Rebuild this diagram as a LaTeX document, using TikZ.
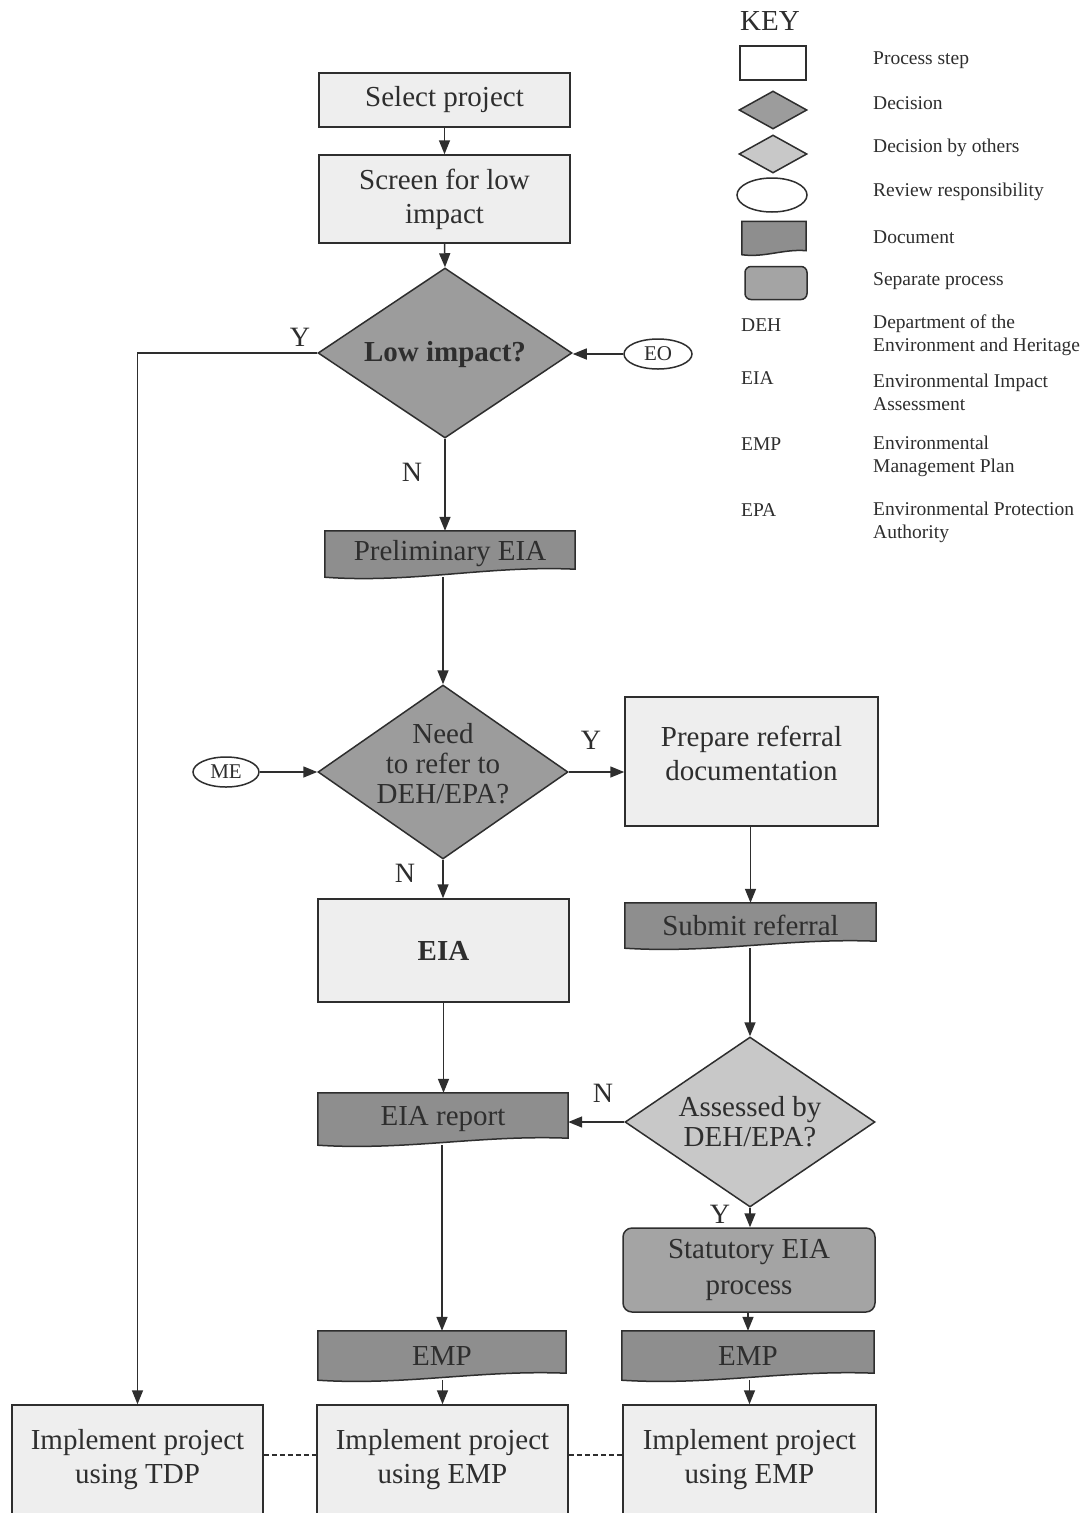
\documentclass[tikz,border=0pt]{standalone}
\usepackage{fontspec}
\setmainfont{Liberation Serif}
\usetikzlibrary{shapes.geometric,arrows.meta,calc,backgrounds}

\pgfdeclarelayer{paper}
\pgfsetlayers{paper,background,main}

\definecolor{ink}{HTML}{2E2E2E}
\definecolor{procfill}{HTML}{EEEEEE}
\definecolor{decfill}{HTML}{9C9C9C}
\definecolor{otherfill}{HTML}{C8C8C8}
\definecolor{docfill}{HTML}{8E8E8E}
\definecolor{sepfill}{HTML}{A4A4A4}

% document symbol: flat top, wavy bottom (right end raised by #2)
\newcommand\docpath[2]{%
  \filldraw[draw=ink, line width=1.5pt, fill=docfill]
    (#1.north west) -- (#1.north east) -- ($(#1.south east)+(0,-#2)$)
    .. controls ($(#1.south east)!0.35!(#1.south west)+(0,-1.5*#2)$)
           and ($(#1.south west)!0.35!(#1.south east)+(0,0.8*#2)$) .. (#1.south west)
    -- cycle;}

\begin{document}
\begin{tikzpicture}[x=1pt,y=-1pt,
  every node/.style={inner sep=0pt, text=ink},
  big/.style={font=\fontsize{29}{34}\selectfont},
  proc/.style={big, rectangle, draw=ink, line width=1.5pt, fill=procfill, align=center},
  decision/.style={diamond, draw=ink, line width=1.5pt, fill=decfill},
  otherdec/.style={diamond, draw=ink, line width=1.5pt, fill=otherfill},
  doc/.style={big, rectangle, align=center},
  sepproc/.style={big, rectangle, rounded corners=9pt, draw=ink, line width=1.5pt, fill=sepfill, align=center},
  review/.style={ellipse, draw=ink, line width=1.5pt, fill=white, font=\fontsize{21}{24}\selectfont},
  flow/.style={draw=ink, line width=1.5pt, -{Triangle[length=14pt,width=11pt]}},
  link/.style={draw=ink, line width=1.5pt, dash pattern=on 5pt off 3pt},
  yn/.style={font=\fontsize{28}{30}\selectfont},
  keytext/.style={font=\fontsize{19.5}{23}\selectfont, anchor=west, align=left},
]
\useasboundingbox (0,0) rectangle (1087,1513);
\begin{pgfonlayer}{paper}
  \fill[white] (0,0) rectangle (1087,1513);
\end{pgfonlayer}

% ---------- main flow ----------
\node[proc, minimum width=251pt, minimum height=54pt] (select) at (444.5,100) {Select project};
\node[proc, minimum width=251pt, minimum height=88pt] (screen) at (444.5,199) {Screen for low\\impact};
\node[decision, minimum width=254pt, minimum height=170pt,
      label={[font=\fontsize{29}{34}\selectfont\bfseries, yshift=-2pt]center:Low impact?}] (lowimp) at (445,353) {};
\node[review, minimum width=68pt, minimum height=30pt] (eo) at (658,354) {EO};

\node[doc, minimum width=250pt, minimum height=46pt] (prelim) at (450,554) {Preliminary EIA};

\node[decision, minimum width=250pt, minimum height=174pt,
      label={[font=\fontsize{29}{30}\selectfont, align=center, yshift=8pt]center:Need\\to refer to\\DEH/EPA?}] (need) at (443,772) {};
\node[review, minimum width=66pt, minimum height=30pt] (me) at (226,772) {ME};
\node[proc, minimum width=253pt, minimum height=129pt,
      label={[big, align=center, yshift=8pt]center:Prepare referral\\documentation}] (prep) at (751.5,761.5) {};

\node[proc, minimum width=251pt, minimum height=103pt, font=\fontsize{29}{34}\selectfont\bfseries] (eia) at (443.5,950.5) {EIA};
\node[doc, minimum width=251pt, minimum height=45pt] (submit) at (750.5,925.5) {Submit referral};

\node[otherdec, minimum width=250pt, minimum height=170pt,
      label={[font=\fontsize{29}{30}\selectfont, align=center]center:Assessed by\\DEH/EPA?}] (assessed) at (750,1122) {};
\node[doc, minimum width=250pt, minimum height=52pt] (eiarep) at (443,1119) {EIA report};

\node[sepproc, minimum width=252pt, minimum height=84pt, font=\fontsize{29}{36}\selectfont] (stat) at (749,1270) {Statutory EIA\\process};

\node[doc, minimum width=248pt, minimum height=49pt] (empL) at (442,1355.5) {EMP};
\node[doc, minimum width=252pt, minimum height=49pt] (empR) at (748,1355.5) {EMP};

\node[proc, minimum width=251pt, minimum height=110pt] (tdp) at (137.5,1460) {Implement project\\using TDP};
\node[proc, minimum width=251pt, minimum height=110pt] (impl2) at (442.5,1460) {Implement project\\using EMP};
\node[proc, minimum width=253pt, minimum height=110pt] (impl3) at (749.5,1460) {Implement project\\using EMP};

% document outlines behind their text
\begin{scope}[on background layer]
  \docpath{prelim}{8}
  \docpath{submit}{7}
  \docpath{eiarep}{7}
  \docpath{empL}{7}
  \docpath{empR}{7}
\end{scope}

% ---------- connectors ----------
\draw[flow] (select.south) -- (screen.north);
\draw[flow] (screen.south) -- (lowimp.north);
\draw[flow] (eo.west) -- (eo.west -| lowimp.east);
\draw[flow] (lowimp.west) -| (tdp.north);
\draw[flow] (lowimp.south) -- (lowimp.south |- prelim.north);
\draw[flow] (need.north |- prelim.south) -- (need.north);
\draw[flow] (me.east) -- (need.west);
\draw[flow] (need.east) -- (need.east -| prep.west);
\draw[flow] (need.south) -- (need.south |- eia.north);
\draw[flow] (submit.north |- prep.south) -- (submit.north);
\draw[flow] (assessed.north |- submit.south) -- (assessed.north);
\draw[flow] (eia.south) -- (eia.south |- eiarep.north);
\draw[flow] (assessed.west) -- (assessed.west -| eiarep.east);
\draw[flow] (assessed.south) -- (assessed.south |- stat.north);
\draw[flow] (empL.north |- eiarep.south) -- (empL.north);
\draw[flow] (empR.north |- stat.south) -- (empR.north);
\draw[flow] (impl2.north |- empL.south) -- (impl2.north);
\draw[flow] (impl3.north |- empR.south) -- (impl3.north);
\draw[link] ([yshift=5pt]tdp.east) -- ([yshift=5pt]impl2.west);
\draw[link] ([yshift=5pt]impl2.east) -- ([yshift=5pt]impl3.west);

% ---------- branch labels ----------
\node[yn] (ylow) at (300,337) {Y};
\node[yn] (nlow) at (412,472) {N};
\node[yn] (yneed) at (591,740) {Y};
\node[yn] (nneed) at (405,873) {N};
\node[yn] (nass) at (603,1093) {N};
\node[yn] (yass) at (720,1214) {Y};

% ---------- key ----------
\node[font=\fontsize{29}{30}\selectfont] (keytitle) at (770,21) {KEY};
\node[draw=ink, line width=1.5pt, fill=white, minimum width=66pt, minimum height=34pt] (kproc) at (773,63) {};
\node[decision, minimum width=68pt, minimum height=38pt] (kdec) at (773,110) {};
\node[otherdec, minimum width=68pt, minimum height=38pt] (kother) at (773,154) {};
\node[review, minimum width=70pt, minimum height=34pt] (krev) at (772,195) {};
\node[doc, minimum width=64pt, minimum height=33pt] (kdoc) at (774,238) {};
\node[sepproc, rounded corners=6pt, minimum width=62pt, minimum height=33pt] (ksep) at (776,283) {};
\begin{scope}[on background layer]
  \docpath{kdoc}{4}
\end{scope}

\node[keytext] (tproc) at (873,60) {Process step};
\node[keytext] (tdec) at (873,103) {Decision};
\node[keytext] (tother) at (873,148) {Decision by others};
\node[keytext] (trev) at (873,192) {Review responsibility};
\node[keytext] (tdoc) at (873,237) {Document};
\node[keytext] (tsep) at (873,281) {Separate process};

\node[keytext] (adeh) at (741,325) {DEH};
\node[keytext] (aeia) at (741,378) {EIA};
\node[keytext] (aemp) at (741,444) {EMP};
\node[keytext] (aepa) at (741,510) {EPA};
\node[keytext] (ddeh) at (873,335.5) {Department of the\\Environment and Heritage};
\node[keytext] (deia) at (873,392.5) {Environmental Impact\\Assessment};
\node[keytext] (demp) at (873,456.5) {Environmental\\Management Plan};
\node[keytext] (depa) at (873,522.5) {Environmental Protection\\Authority};
\end{tikzpicture}
\end{document}
